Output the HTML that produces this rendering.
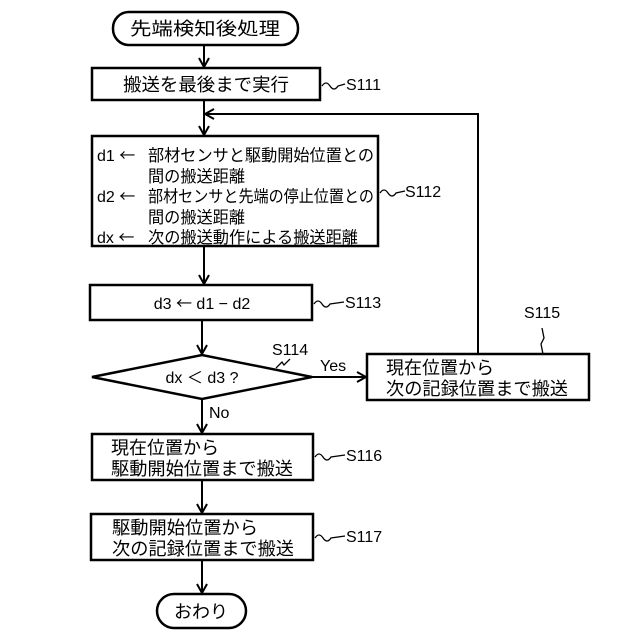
<!DOCTYPE html>
<html><head><meta charset="utf-8"><style>
body{margin:0;background:#fff}
svg{display:block}
text{font-family:"Liberation Sans","Noto Sans CJK JP",sans-serif;fill:#000}
.j{font-family:"Noto Sans CJK JP","Liberation Sans",sans-serif}
</style></head><body>
<svg width="640" height="640" viewBox="0 0 640 640" xmlns="http://www.w3.org/2000/svg">
<defs><marker id="a" markerWidth="12" markerHeight="12" refX="10" refY="6" orient="auto" markerUnits="userSpaceOnUse"><path d="M1,1 L10,6 L1,11" fill="none" stroke="#000" stroke-width="2"/></marker></defs>
<g stroke="#000" stroke-width="2.5" fill="none">
<rect x="113" y="12" width="185" height="33" rx="16"/>
<rect x="92" y="68" width="228" height="32"/>
<rect x="92" y="136" width="286" height="110"/>
<rect x="90" y="285" width="222" height="35"/>
<polygon points="92,377 202,355 312,377 202,399"/>
<rect x="367" y="354" width="222" height="46"/>
<rect x="92" y="434" width="221" height="46"/>
<rect x="91" y="514" width="222" height="46"/>
<rect x="157" y="594" width="89" height="34" rx="17"/>
</g>
<g stroke="#000" stroke-width="2" fill="none">
<line x1="204" y1="45" x2="204" y2="67" marker-end="url(#a)"/>
<line x1="204" y1="100" x2="204" y2="135" marker-end="url(#a)"/>
<polyline points="478,354 478,114 205,114" marker-end="url(#a)"/>
<line x1="204" y1="246" x2="204" y2="284" marker-end="url(#a)"/>
<line x1="202" y1="320" x2="202" y2="354" marker-end="url(#a)"/>
<line x1="312" y1="377" x2="366" y2="377" marker-end="url(#a)"/>
<line x1="202" y1="399" x2="202" y2="433" marker-end="url(#a)"/>
<line x1="202" y1="480" x2="202" y2="513" marker-end="url(#a)"/>
<line x1="202" y1="560" x2="202" y2="593" marker-end="url(#a)"/>
<path d="M322,86 q4,-6 8,0 t8,0 L345,84" stroke-width="1.3"/>
<path d="M380,193 q4,-6 8,0 t8,0 L405,191" stroke-width="1.3"/>
<path d="M314,304 q4,-6 8,0 t8,0 L344,302" stroke-width="1.3"/>
<path d="M315,457 q4,-6 8,0 t8,0 L345,455" stroke-width="1.3"/>
<path d="M315,538 q4,-6 8,0 t8,0 L345,536" stroke-width="1.3"/>
<path d="M276,368 l6,-6 l2,3 l6,-6" stroke-width="1.3"/>
<path d="M543,354 l-2,-10 l3,-6 l-2,-10" stroke-width="1.3"/>
</g>
<g font-size="18" text-anchor="middle" class="j">
<text x="205" y="35" textLength="150" lengthAdjust="spacingAndGlyphs">先端検知後処理</text>
<text x="206" y="91" textLength="166" lengthAdjust="spacingAndGlyphs">搬送を最後まで実行</text>
<text x="201" y="618" textLength="54" lengthAdjust="spacingAndGlyphs">おわり</text>
</g>
<g font-size="16" text-anchor="middle">
<text x="202" y="309">d3 <tspan class="j">←</tspan> d1 − d2</text>
<text x="202" y="383">dx ＜ d3 ?</text>
</g>
<g font-size="16">
<text x="97" y="161">d1 <tspan class="j">←</tspan></text>
<text x="97" y="202">d2 <tspan class="j">←</tspan></text>
<text x="97" y="243">dx <tspan class="j">←</tspan></text>
</g>
<g font-size="16.5" class="j">
<text x="148" y="161" textLength="226" lengthAdjust="spacingAndGlyphs">部材センサと駆動開始位置との</text>
<text x="148" y="182" textLength="97" lengthAdjust="spacingAndGlyphs">間の搬送距離</text>
<text x="148" y="202" textLength="226" lengthAdjust="spacingAndGlyphs">部材センサと先端の停止位置との</text>
<text x="148" y="223" textLength="97" lengthAdjust="spacingAndGlyphs">間の搬送距離</text>
<text x="148" y="243" textLength="210" lengthAdjust="spacingAndGlyphs">次の搬送動作による搬送距離</text>
</g>
<g font-size="18" class="j">
<text x="386" y="374" textLength="108" lengthAdjust="spacingAndGlyphs">現在位置から</text>
<text x="386" y="395" textLength="182" lengthAdjust="spacingAndGlyphs">次の記録位置まで搬送</text>
<text x="111" y="454" textLength="108" lengthAdjust="spacingAndGlyphs">現在位置から</text>
<text x="111" y="475" textLength="182" lengthAdjust="spacingAndGlyphs">駆動開始位置まで搬送</text>
<text x="112" y="534" textLength="146" lengthAdjust="spacingAndGlyphs">駆動開始位置から</text>
<text x="112" y="555" textLength="182" lengthAdjust="spacingAndGlyphs">次の記録位置まで搬送</text>
</g>
<g font-size="16">
<text x="346" y="90">S111</text>
<text x="405" y="197">S112</text>
<text x="345" y="308">S113</text>
<text x="272" y="355">S114</text>
<text x="524" y="318">S115</text>
<text x="346" y="461">S116</text>
<text x="346" y="542">S117</text>
<text x="320" y="371">Yes</text>
<text x="209" y="418">No</text>
</g>
</svg>
</body></html>
